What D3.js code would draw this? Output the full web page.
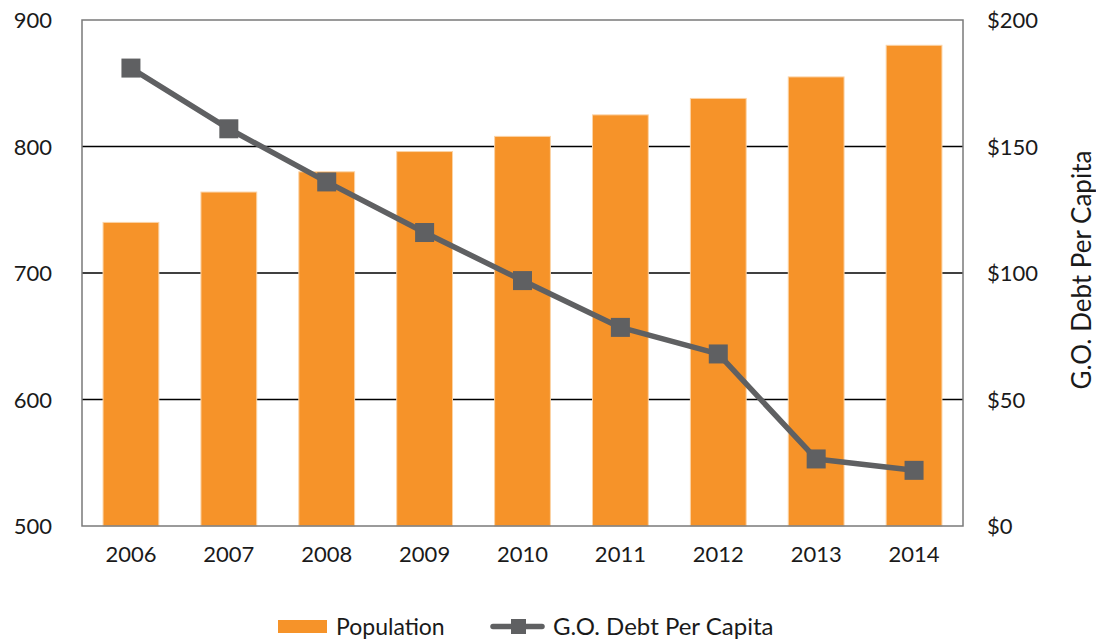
<!DOCTYPE html>
<html>
<head>
<meta charset="utf-8">
<script src="https://cdn.jsdelivr.net/npm/d3@7"></script>
<style>
  html, body { margin: 0; padding: 0; background: #fff; }
  svg { display: block; font-family: Lato, "Open Sans", sans-serif; }
</style>
</head>
<body>
<svg id="chart" width="1096" height="642"></svg>
<script>
// Population and general-obligation debt per capita, 2006–2014
const years = ["2006", "2007", "2008", "2009", "2010", "2011", "2012", "2013", "2014"];
const population = [740, 764, 780, 796, 808, 825, 838, 855, 880];
const debtPerCapita = [181, 157, 136, 116, 97, 78.5, 68, 26.5, 22];
const popTicks = [500, 600, 700, 800, 900];
const debtTicks = [0, 50, 100, 150, 200];

const svg = d3.select("#chart");
const margin = { left: 82, right: 1096 - 963, top: 20, bottom: 642 - 526 };
const W = 1096, H = 642;
const x0 = margin.left, x1 = W - margin.right, yTop = margin.top, yBot = H - margin.bottom;

const orange = "#F69329";
const gray = "#5F6062";
const textColor = "#1a1a1a";

const x = d3.scaleBand().domain(years).range([x0, x1]).paddingInner(0.43).paddingOuter(0.215);
const yL = d3.scaleLinear().domain([500, 900]).range([yBot, yTop]);
const yR = d3.scaleLinear().domain([0, 200]).range([yBot, yTop]);

// Gridlines
svg.append("g")
  .selectAll("line")
  .data(popTicks.filter(t => t !== 500 && t !== 900))
  .join("line")
  .attr("x1", x0).attr("x2", x1)
  .attr("y1", d => yL(d)).attr("y2", d => yL(d))
  .attr("stroke", "#000").attr("stroke-width", 1.3);

// Bars
svg.append("g")
  .selectAll("rect")
  .data(years)
  .join("rect")
  .attr("x", d => x(d))
  .attr("width", x.bandwidth())
  .attr("y", (d, i) => yL(population[i]))
  .attr("height", (d, i) => yBot - yL(population[i]))
  .attr("fill", orange)
  .attr("stroke", "#FBD3A6")
  .attr("stroke-width", 1);

// Plot frame
svg.append("rect")
  .attr("x", x0).attr("y", yTop)
  .attr("width", x1 - x0).attr("height", yBot - yTop)
  .attr("fill", "none").attr("stroke", "#7a7a7a").attr("stroke-width", 1.5);

// Debt line
const cx = d => x(d) + x.bandwidth() / 2;
const line = d3.line().x((d, i) => cx(years[i])).y(d => yR(d));
svg.append("path")
  .datum(debtPerCapita)
  .attr("d", line)
  .attr("fill", "none")
  .attr("stroke", gray)
  .attr("stroke-width", 5.5)
  .attr("stroke-linejoin", "round");

const ms = 19;
svg.append("g")
  .selectAll("rect")
  .data(debtPerCapita)
  .join("rect")
  .attr("x", (d, i) => cx(years[i]) - ms / 2)
  .attr("y", d => yR(d) - ms / 2)
  .attr("width", ms).attr("height", ms)
  .attr("fill", gray);

// Left axis
const axL = svg.append("g").attr("transform", `translate(${x0},0)`)
  .call(d3.axisLeft(yL).tickValues(popTicks).tickSize(0).tickPadding(30));
axL.select(".domain").remove();
axL.selectAll("text").attr("font-size", 22).attr("fill", textColor).attr("dy", "0.35em")
  .attr("font-family", "Lato, sans-serif");

// Right axis
const axR = svg.append("g").attr("transform", `translate(${x1},0)`)
  .call(d3.axisRight(yR).tickValues(debtTicks).tickSize(0).tickPadding(24).tickFormat(d => "$" + d));
axR.select(".domain").remove();
axR.selectAll("text").attr("font-size", 22).attr("fill", textColor).attr("dy", "0.35em")
  .attr("font-family", "Lato, sans-serif");

// Bottom axis
const axB = svg.append("g").attr("transform", `translate(0,${yBot})`)
  .call(d3.axisBottom(x).tickSize(0).tickPadding(20));
axB.select(".domain").remove();
axB.selectAll("text").attr("font-size", 22).attr("fill", textColor)
  .attr("font-family", "Lato, sans-serif");

// Right axis title
svg.append("text")
  .attr("transform", `translate(1091,270) rotate(-90)`)
  .attr("text-anchor", "middle")
  .attr("font-size", 26)
  .attr("fill", textColor)
  .text("G.O. Debt Per Capita");

// Legend
const lg = svg.append("g");
lg.append("rect").attr("x", 278).attr("y", 620).attr("width", 49).attr("height", 13).attr("fill", orange);
lg.append("text").attr("x", 336).attr("y", 635).attr("font-size", 23).attr("fill", textColor).text("Population");
lg.append("line").attr("x1", 493).attr("x2", 542).attr("y1", 626.5).attr("y2", 626.5)
  .attr("stroke", gray).attr("stroke-width", 5.5).attr("stroke-linecap", "round");
lg.append("rect").attr("x", 511).attr("y", 619).attr("width", 15).attr("height", 15).attr("fill", gray);
lg.append("text").attr("x", 553).attr("y", 635).attr("font-size", 24).attr("fill", textColor).text("G.O. Debt Per Capita");
</script>
</body>
</html>
